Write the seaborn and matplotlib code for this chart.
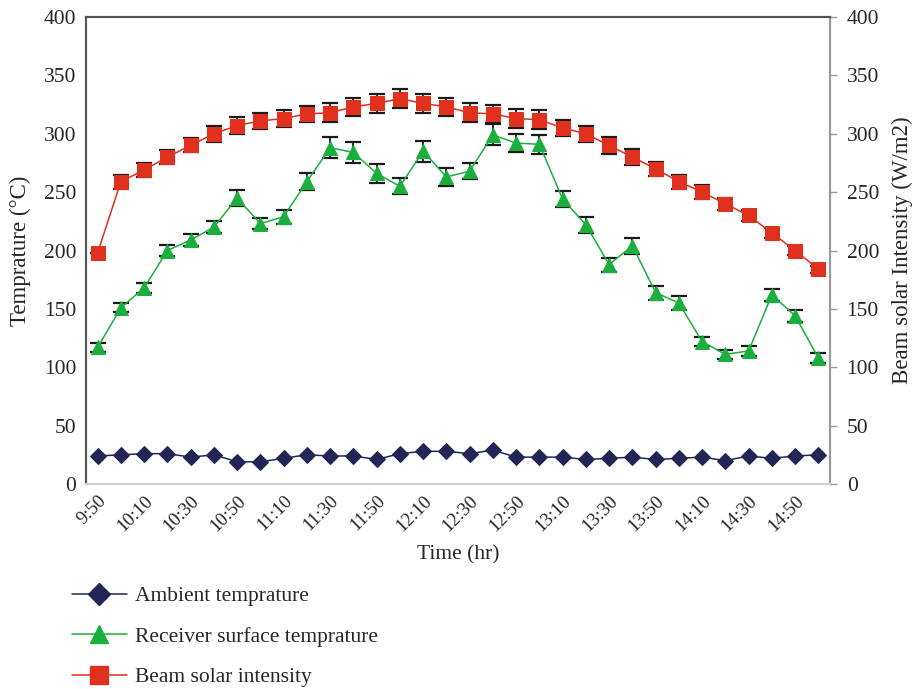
import matplotlib
matplotlib.use("Agg")
import matplotlib.pyplot as plt
import numpy as np
import pandas as pd
import seaborn as sns
from matplotlib.lines import Line2D

# ---------------------------------------------------------------
# Data
# ---------------------------------------------------------------
times = [
    "9:50", "10:00", "10:10", "10:20", "10:30", "10:40", "10:50", "11:00",
    "11:10", "11:20", "11:30", "11:40", "11:50", "12:00", "12:10", "12:20",
    "12:30", "12:40", "12:50", "13:00", "13:10", "13:20", "13:30", "13:40",
    "13:50", "14:00", "14:10", "14:20", "14:30", "14:40", "14:50", "15:00",
]
ambient = [24, 25, 26, 26, 23, 25, 19, 19, 22, 25, 24, 24, 21, 26, 28, 28,
           26, 29, 23, 23, 23, 21, 22, 23, 21, 22, 23, 20, 24, 22, 24, 25]
receiver = [117, 151, 168, 200, 209, 220, 245, 223, 229, 259, 288, 284, 266, 255, 285, 263,
            268, 299, 292, 291, 244, 222, 188, 204, 164, 155, 122, 111, 114, 162, 144, 108]
receiver_err = [4, 4, 4, 5, 5, 5, 7, 5, 6, 7, 9, 9, 8, 7, 9, 8,
                7, 9, 8, 8, 7, 7, 6, 7, 6, 6, 4, 4, 4, 5, 5, 4]
beam = [198, 259, 269, 280, 290, 300, 307, 311, 313, 317, 318, 323, 326, 330, 326, 323,
        318, 317, 313, 312, 305, 300, 290, 280, 270, 259, 250, 240, 230, 215, 200, 184]
beam_err = [0, 6, 6, 6, 6, 7, 7, 7, 7, 7, 8, 8, 8, 8, 8, 8,
            8, 8, 8, 8, 7, 7, 7, 7, 6, 6, 6, 5, 5, 4, 4, 3]

labels = ["Ambient temprature", "Receiver surface temprature", "Beam solar intensity"]
colors = ["#232654", "#1AAF3C", "#E0301E"]

df = pd.DataFrame({
    "slot": np.arange(len(times)),
    "time": times,
    "ambient": ambient,
    "receiver": receiver,
    "receiver_err": receiver_err,
    "beam": beam,
    "beam_err": beam_err,
})

# ---------------------------------------------------------------
# Style
# ---------------------------------------------------------------
sns.set_theme(style="white")
plt.rcParams["font.family"] = ["Liberation Serif", "DejaVu Serif"]
plt.rcParams["font.size"] = 15

fig = plt.figure(figsize=(9.14, 6.89), dpi=100)
ax = fig.add_axes([86 / 914, 1 - 484 / 689, (830 - 86) / 914, (484 - 17) / 689])
ax2 = ax.twinx()

# ---------------------------------------------------------------
# Series
# ---------------------------------------------------------------
sns.lineplot(data=df, x="slot", y="ambient", ax=ax, color=colors[0],
             marker="D", markersize=8.5, markeredgecolor=colors[0], linewidth=1.1,
             zorder=4)

ax.errorbar(df["slot"], df["receiver"], yerr=df["receiver_err"], fmt="none",
            ecolor="#1a1a1a", elinewidth=1.3, capsize=6, capthick=1.6, zorder=3)
sns.lineplot(data=df, x="slot", y="receiver", ax=ax, color=colors[1],
             marker="^", markersize=10, markeredgecolor=colors[1], linewidth=1.1,
             zorder=4)

ax2.errorbar(df["slot"], df["beam"], yerr=df["beam_err"], fmt="none",
             ecolor="#1a1a1a", elinewidth=1.3, capsize=6, capthick=1.6, zorder=3)
sns.lineplot(data=df, x="slot", y="beam", ax=ax2, color=colors[2],
             marker="s", markersize=9.5, markeredgecolor=colors[2], linewidth=1.1,
             zorder=4)

# ---------------------------------------------------------------
# Axes
# ---------------------------------------------------------------
for a in (ax, ax2):
    a.set_xlim(-0.5, len(times) - 0.5)
    a.set_ylim(0, 400)
    a.set_yticks(np.arange(0, 401, 50))

ax.set_xticks(df["slot"][::2])
ax.set_xticklabels(df["time"][::2], rotation=45, ha="right",
                   rotation_mode="anchor", fontsize=13.5)
ax.tick_params(axis="x", length=0, pad=6)
ax.tick_params(axis="y", length=0, pad=7, labelsize=15.5)
ax2.tick_params(axis="y", length=5, width=1.0, color="#999999", pad=7,
                labelsize=15.5, direction="out")

ax.set_xlabel("Time (hr)", fontsize=15.5, labelpad=8)
ax.set_ylabel("Temprature (°C)", fontsize=16.5, labelpad=9)
ax2.set_ylabel("Beam solar Intensity (W/m2)", fontsize=16.5, labelpad=9)

for a in (ax, ax2):
    a.spines["left"].set_color("#555555")
    a.spines["top"].set_color("#555555")
    a.spines["right"].set_color("#999999")
    a.spines["bottom"].set_color("#d0d0d0")
    for s in a.spines.values():
        s.set_linewidth(1.5)
ax2.set_zorder(ax.get_zorder() + 1)
ax2.patch.set_visible(False)

# ---------------------------------------------------------------
# Legend
# ---------------------------------------------------------------
handles = [
    Line2D([], [], color=colors[0], marker="D", markersize=11, linewidth=1.1),
    Line2D([], [], color=colors[1], marker="^", markersize=13, linewidth=1.1),
    Line2D([], [], color=colors[2], marker="s", markersize=13, linewidth=1.1),
]
fig.legend(handles, labels, loc="upper left", bbox_to_anchor=(72 / 914, 1 - 586 / 689),
           frameon=False, fontsize=15.5, handlelength=2.55, handletextpad=0.37,
           labelspacing=0.95, borderpad=0, borderaxespad=0)

fig.savefig("out.png", dpi=100)
